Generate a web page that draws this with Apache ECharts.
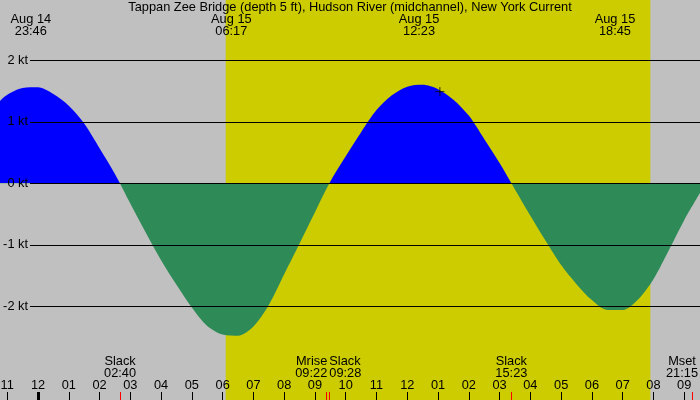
<!DOCTYPE html>
<html>
<head>
<meta charset="utf-8">
<script src="https://cdn.jsdelivr.net/npm/echarts@6/dist/echarts.min.js"></script>
<style>
html, body { margin: 0; padding: 0; background: #c0c0c0; }
#chart { width: 700px; height: 400px; }
</style>
</head>
<body>
<div id="chart"></div>
<script>
// 时间: 从 8月15日 00:00 起的小时数 (负数为 8月14日)
var hours = [-1.235, -1, -0.5, 0, 0.5, 1, 1.5, 2, 2.5, 3, 3.5, 4, 4.5, 5, 5.5, 6, 6.5, 7, 7.5, 8,
    8.5, 9, 9.5, 10, 10.5, 11, 11.5, 12, 12.5, 13, 13.5, 14, 14.5, 15, 15.5, 16, 16.5, 17, 17.5, 18,
    18.5, 19, 19.5, 20, 20.5, 21, 21.513];
// 流速 (kt), 正为涨潮, 负为落潮
var speeds = [1.34, 1.44, 1.55, 1.56, 1.45, 1.26, 0.97, 0.57, 0.15, -0.33, -0.80, -1.25, -1.65, -2.02,
    -2.32, -2.46, -2.48, -2.33, -1.98, -1.48, -0.98, -0.47, 0.03, 0.44, 0.83, 1.19, 1.43, 1.57, 1.60,
    1.53, 1.36, 1.10, 0.72, 0.33, -0.10, -0.53, -0.94, -1.33, -1.64, -1.90, -2.06, -2.06, -1.89, -1.56,
    -1.09, -0.60, -0.16];

var gridLevels = [2, 1, 0, -1, -2];
var hourTicks = [-1, 0, 1, 2, 3, 4, 5, 6, 7, 8, 9, 10, 11, 12, 13, 14, 15, 16, 17, 18, 19, 20, 21];
var daylight = [6.1, 19.9];
var nowPoint = [13.06, 1.49];

// 最大流速 / 最小流速 (顶部标签)
var extremeHours = [-0.233, 6.283, 12.383, 18.75];
var extremeDates = ['Aug 14', 'Aug 15', 'Aug 15', 'Aug 15'];
var extremeTimes = ['23:46', '06:17', '12:23', '18:45'];

// 平潮、月出、月落 (底部标签)
var eventHours = [2.667, 9.367, 9.467, 15.383, 21.25];
var eventNames = ['Slack', 'Mrise', 'Slack', 'Slack', 'Mset'];
var eventTimes = ['02:40', '09:22', '09:28', '15:23', '21:15'];
var eventAlign = ['center', 'right', 'left', 'center', 'center'];

var titleText = 'Tappan Zee Bridge (depth 5 ft), Hudson River (midchannel), New York Current';

var FONT = 'Liberation Sans';
var FONT_SIZE = 12.8;
var xMin = -1.235, xMax = 21.513;
var yMin = -3.524, yMax = 2.98;
var lineStartX = -0.26;

function pad(n) {
    return (n < 10 ? '0' : '') + n;
}

function hourLabel(h) {
    let k = ((h % 12) + 12) % 12;
    if (k === 0) k = 12;
    return pad(k);
}

let myChart = echarts.init(document.getElementById('chart'));

let seriesData = hours.map((h, i) => [h, speeds[i]]);

let gridLines = gridLevels.map((v) => [
    { name: v + ' kt', coord: [lineStartX, v] },
    { coord: [xMax, v] }
]);

function tickAxis(values, color, width, showLabel) {
    return {
        type: 'value',
        position: 'bottom',
        z: 8,
        min: xMin,
        max: xMax,
        splitLine: { show: false },
        axisLine: { show: false, onZero: false },
        axisTick: {
            show: true,
            inside: true,
            length: 8,
            customValues: values,
            lineStyle: { color: color, width: width }
        },
        axisLabel: showLabel ? {
            show: true,
            inside: true,
            margin: 8,
            customValues: values,
            formatter: hourLabel,
            color: '#000',
            fontSize: FONT_SIZE,
            fontFamily: FONT
        } : { show: false }
    };
}

let option = {
    backgroundColor: '#c0c0c0',
    animation: false,
    grid: { left: 0, right: 0, top: 0, bottom: 0, containLabel: false, outerBoundsMode: 'none' },
    xAxis: [
        tickAxis(hourTicks, '#000', 1, true),
        tickAxis([0], '#000', 3, false),
        tickAxis(eventHours, '#ff0000', 1, false)
    ],
    yAxis: { type: 'value', min: yMin, max: yMax, show: false },
    visualMap: {
        show: false,
        seriesIndex: 0,
        dimension: 1,
        pieces: [
            { gt: 0, lte: 10, color: '#0000ff' },
            { gt: -10, lte: 0, color: '#2e8b57' }
        ]
    },
    series: [
        {
            name: 'current',
            type: 'line',
            data: seriesData,
            smooth: 0.3,
            symbol: 'none',
            showSymbol: false,
            lineStyle: { width: 0 },
            areaStyle: { opacity: 1 },
            markArea: {
                silent: true,
                itemStyle: { color: '#cccc00', opacity: 1 },
                data: [[{ xAxis: daylight[0] }, { xAxis: daylight[1] }]]
            },
            markLine: {
                silent: true,
                symbol: ['none', 'none'],
                lineStyle: { color: '#000', width: 1, type: 'solid' },
                label: {
                    show: true,
                    position: 'start',
                    distance: 2,
                    formatter: '{b}',
                    color: '#000',
                    fontSize: FONT_SIZE,
                    fontFamily: FONT
                },
                data: gridLines
            }
        },
        {
            name: 'now',
            type: 'scatter',
            data: [nowPoint],
            symbol: 'path://M0,5L10,5M5,0L5,10',
            symbolSize: 9,
            z: 6,
            itemStyle: { color: 'none', borderColor: '#000', borderWidth: 1 }
        }
    ]
};

myChart.setOption(option, true);

// 文字标签
function textEl(str, x, y, align) {
    return {
        type: 'text',
        silent: true,
        z: 10,
        style: {
            text: str,
            x: x,
            y: y,
            align: align,
            textAlign: align,
            verticalAlign: 'middle',
            textVerticalAlign: 'middle',
            fill: '#000',
            fontSize: FONT_SIZE,
            fontFamily: FONT
        }
    };
}

let graphics = [textEl(titleText, 350, 7.8, 'center')];

extremeHours.forEach((h, i) => {
    let px = myChart.convertToPixel({ xAxisIndex: 0 }, h);
    graphics.push(textEl(extremeDates[i], px, 19.7, 'center'));
    graphics.push(textEl(extremeTimes[i], px, 31.7, 'center'));
});

eventHours.forEach((h, i) => {
    let px = myChart.convertToPixel({ xAxisIndex: 0 }, h);
    let align = eventAlign[i];
    if (align === 'right') px += 1;
    if (align === 'center') px = Math.min(px, 682);
    graphics.push(textEl(eventNames[i], px, 361.7, align));
    graphics.push(textEl(eventTimes[i], px, 373.5, align));
});

myChart.setOption({ graphic: graphics });
</script>
</body>
</html>
